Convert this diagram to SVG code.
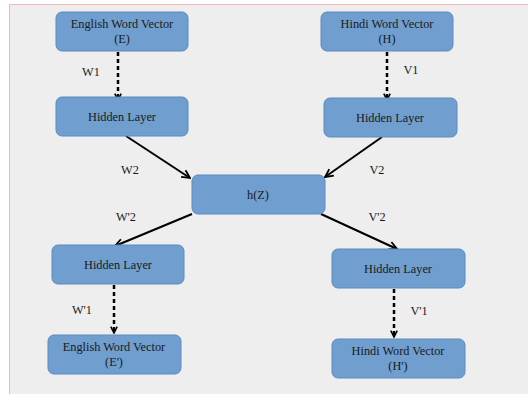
<svg xmlns="http://www.w3.org/2000/svg" width="528" height="394" viewBox="0 0 528 394">
<defs>
<style>
.box{fill:#6f9ecf;stroke:#5b8bc0;stroke-width:1}
.t{font-family:"Liberation Serif","Times New Roman",serif;font-size:12.3px;fill:#1a1a1a;text-anchor:middle}
.solid{stroke:#000;stroke-width:2;fill:none}
.dash{stroke:#000;stroke-width:2.5;fill:none;stroke-dasharray:4 3}
</style>
<marker id="ah" viewBox="0 0 10 10" refX="9" refY="5" markerWidth="10" markerHeight="10" markerUnits="userSpaceOnUse" orient="auto">
<path d="M1,1 L9,5 L1,9" fill="none" stroke="#000" stroke-width="1.8"/>
</marker>
<marker id="ahd" viewBox="0 0 10 10" refX="9" refY="5" markerWidth="8" markerHeight="8" markerUnits="userSpaceOnUse" orient="auto">
<path d="M1,1 L9,5 L1,9" fill="none" stroke="#000" stroke-width="2"/>
</marker>
</defs>
<rect x="0" y="0" width="528" height="394" fill="#ffffff"/>
<rect x="9" y="4" width="519" height="390" fill="#eeeeee"/>
<line x1="9" y1="4.5" x2="528" y2="4.5" stroke="#f4b6b6" stroke-width="1"/>
<line x1="9.5" y1="4" x2="9.5" y2="394" stroke="#f4b6b6" stroke-width="1"/>

<g id="connectors">
<line class="dash" x1="118" y1="52" x2="118" y2="100" marker-end="url(#ahd)"/>
<line class="dash" x1="387" y1="52" x2="387" y2="100" marker-end="url(#ahd)"/>
<line class="solid" x1="126" y1="136" x2="190" y2="178" marker-end="url(#ah)"/>
<line class="solid" x1="382" y1="137" x2="325" y2="177" marker-end="url(#ah)"/>
<line class="solid" x1="192" y1="214" x2="115" y2="246" marker-end="url(#ah)"/>
<line class="solid" x1="321" y1="214" x2="397" y2="249" marker-end="url(#ah)"/>
<line class="dash" x1="114" y1="285" x2="114" y2="333" marker-end="url(#ahd)"/>
<line class="dash" x1="394" y1="289" x2="394" y2="337" marker-end="url(#ahd)"/>
</g>

<g id="labels">
<text class="t" x="91" y="76">W1</text>
<text class="t" x="411" y="74">V1</text>
<text class="t" x="130" y="174">W2</text>
<text class="t" x="377" y="174">V2</text>
<text class="t" x="126" y="221">W'2</text>
<text class="t" x="377" y="221">V'2</text>
<text class="t" x="82" y="314">W'1</text>
<text class="t" x="419" y="315">V'1</text>
</g>

<g id="english-e">
<rect class="box" x="56" y="12" width="132" height="39" rx="6"/>
<text class="t" x="122" y="28">English  Word Vector</text>
<text class="t" x="122" y="43">(E)</text>
</g>
<g id="hindi-h">
<rect class="box" x="321" y="12" width="132" height="39" rx="6"/>
<text class="t" x="387" y="28">Hindi Word Vector</text>
<text class="t" x="387" y="43">(H)</text>
</g>
<g id="hidden-e">
<rect class="box" x="56" y="97" width="132" height="39" rx="6"/>
<text class="t" x="122" y="121">Hidden Layer</text>
</g>
<g id="hidden-h">
<rect class="box" x="324" y="98" width="133" height="39" rx="6"/>
<text class="t" x="390" y="122">Hidden Layer</text>
</g>
<g id="hz">
<rect class="box" x="192" y="175" width="133" height="39" rx="6"/>
<text class="t" x="258" y="199">h(Z)</text>
</g>
<g id="hidden-e2">
<rect class="box" x="52" y="245" width="132" height="39" rx="6"/>
<text class="t" x="118" y="269">Hidden Layer</text>
</g>
<g id="hidden-h2">
<rect class="box" x="332" y="249" width="133" height="39" rx="6"/>
<text class="t" x="398" y="273">Hidden Layer</text>
</g>
<g id="english-e2">
<rect class="box" x="48" y="335" width="133" height="39" rx="6"/>
<text class="t" x="114" y="351">English  Word Vector</text>
<text class="t" x="114" y="366">(E')</text>
</g>
<g id="hindi-h2">
<rect class="box" x="332" y="339" width="133" height="39" rx="6"/>
<text class="t" x="398" y="355">Hindi Word Vector</text>
<text class="t" x="398" y="370">(H')</text>
</g>
</svg>
